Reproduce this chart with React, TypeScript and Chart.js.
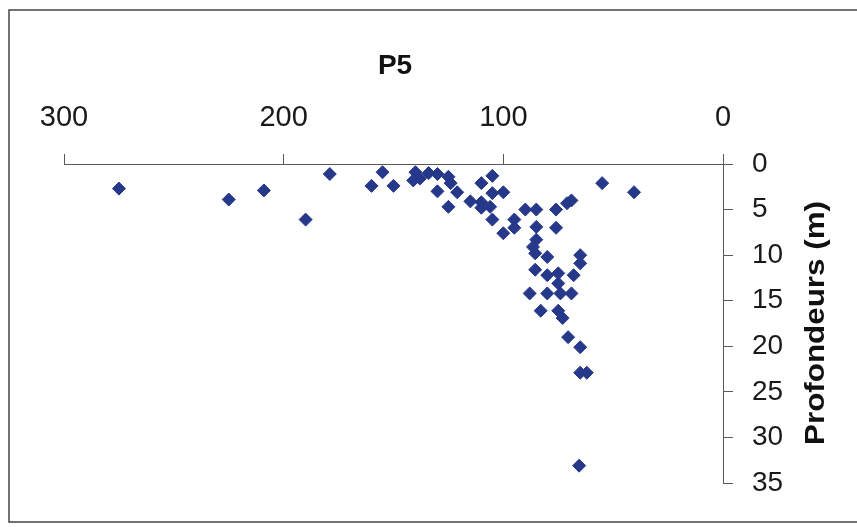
import React, { useEffect, useRef } from "react";
import { Chart, registerables } from "chart.js";

Chart.register(...registerables);

const chartTitle = "P5";
const yTitle = "Profondeurs (m)";
const xTicks = [0, 100, 200, 300];
const yTicks = [0, 5, 10, 15, 20, 25, 30, 35];

// P5 values (x) and depths (m)
const p5Values = [
  275, 225, 209, 190, 179, 155, 160, 150,
  140, 138, 134, 130, 141, 125, 124, 130, 121, 125, 115, 110, 105,
  110, 105, 100, 106, 110, 105, 100, 95, 95, 90, 85, 85, 76, 76, 71, 69,
  55, 40.5, 85, 86.5, 80, 65, 65, 85.5, 85.5, 80, 75, 68, 75,
  88, 80, 74, 69, 83, 75, 73, 70.5, 65, 65, 62, 65.5,
];
const depths = [
  2.7, 3.9, 2.9, 6.1, 1.1, 0.9, 2.4, 2.4,
  0.9, 1.6, 1.0, 1.1, 1.8, 1.4, 2.1, 3.0, 3.1, 4.7, 4.1, 2.1, 1.3,
  4.2, 3.2, 3.1, 4.7, 4.8, 6.1, 7.6, 6.1, 7.0, 5.0, 5.0, 6.9, 5.0, 7.0, 4.3, 4.0,
  2.1, 3.1, 8.3, 9.1, 10.2, 10.0, 10.9, 9.8, 11.6, 12.2, 12.0, 12.2, 13.1,
  14.2, 14.2, 14.2, 14.2, 16.1, 16.1, 16.9, 19.0, 20.1, 22.9, 22.9, 33.1,
];

const FONT = "'Liberation Sans', Arial, sans-serif";
const POINT_COLOR = "#26388a";
const AXIS_COLOR = "#5a5a5a";

export default function App() {
  const ref = useRef<HTMLCanvasElement | null>(null);

  useEffect(() => {
    if (!ref.current) return;
    const points = p5Values.map((v, i) => ({ x: v, y: depths[i] }));

    const decor = {
      id: "decor",
      afterDraw(chart: any) {
        const ctx = chart.ctx;
        ctx.save();
        // frame
        ctx.strokeStyle = "#444";
        ctx.lineWidth = 1.5;
        ctx.beginPath();
        ctx.moveTo(870, 10);
        ctx.lineTo(9, 10);
        ctx.lineTo(9, 522);
        ctx.lineTo(870, 522);
        ctx.stroke();
        // chart title
        ctx.fillStyle = "#111";
        ctx.font = `bold 28px ${FONT}`;
        ctx.textAlign = "center";
        ctx.textBaseline = "middle";
        ctx.fillText(chartTitle, 395, 66);
        // y title rotated
        ctx.translate(816, 323);
        ctx.rotate(-Math.PI / 2);
        ctx.scale(1.12, 1);
        ctx.fillText(yTitle, 0, 0);
        ctx.restore();
      },
    };

    const chart = new Chart(ref.current, {
      type: "scatter",
      data: {
        datasets: [
          {
            label: chartTitle,
            data: points,
            pointStyle: "rectRot",
            pointRadius: 6.5,
            pointBorderWidth: 1,
            backgroundColor: POINT_COLOR,
            borderColor: POINT_COLOR,
          },
        ],
      },
      options: {
        responsive: false,
        animation: false,
        devicePixelRatio: 1,
        layout: { padding: { left: 64, top: 0, right: 0, bottom: 44 } },
        plugins: {
          legend: { display: false },
          title: { display: false },
          tooltip: { enabled: false },
        },
        scales: {
          x: {
            type: "linear",
            position: "top",
            reverse: true,
            min: 0,
            max: 300,
            afterBuildTicks(scale: any) {
              scale.ticks = xTicks.map((v) => ({ value: v }));
            },
            afterFit(scale: any) {
              scale.height = 164;
            },
            grid: {
              display: true,
              drawOnChartArea: false,
              drawTicks: true,
              tickLength: 10,
              color: AXIS_COLOR,
            },
            border: { display: true, color: AXIS_COLOR, width: 1 },
            ticks: {
              padding: 19,
              maxRotation: 0,
              color: "#1a1a1a",
              font: { family: FONT, size: 29 },
            },
          },
          y: {
            type: "linear",
            position: "right",
            reverse: true,
            min: 0,
            max: 35,
            afterBuildTicks(scale: any) {
              scale.ticks = yTicks.map((v) => ({ value: v }));
            },
            afterFit(scale: any) {
              scale.width = 134;
            },
            grid: {
              display: true,
              drawOnChartArea: false,
              drawTicks: true,
              tickLength: 10,
              color: AXIS_COLOR,
            },
            border: { display: true, color: AXIS_COLOR, width: 1 },
            ticks: {
              padding: 19,
              color: "#1a1a1a",
              font: { family: FONT, size: 28 },
            },
          },
        },
      },
      plugins: [decor],
    } as any);

    return () => chart.destroy();
  }, []);

  return (
    <div style={{ position: "absolute", left: 0, top: 0, width: 857, height: 527, background: "#fff" }}>
      <canvas ref={ref} width={857} height={527} style={{ width: 857, height: 527, display: "block" }} />
    </div>
  );
}
